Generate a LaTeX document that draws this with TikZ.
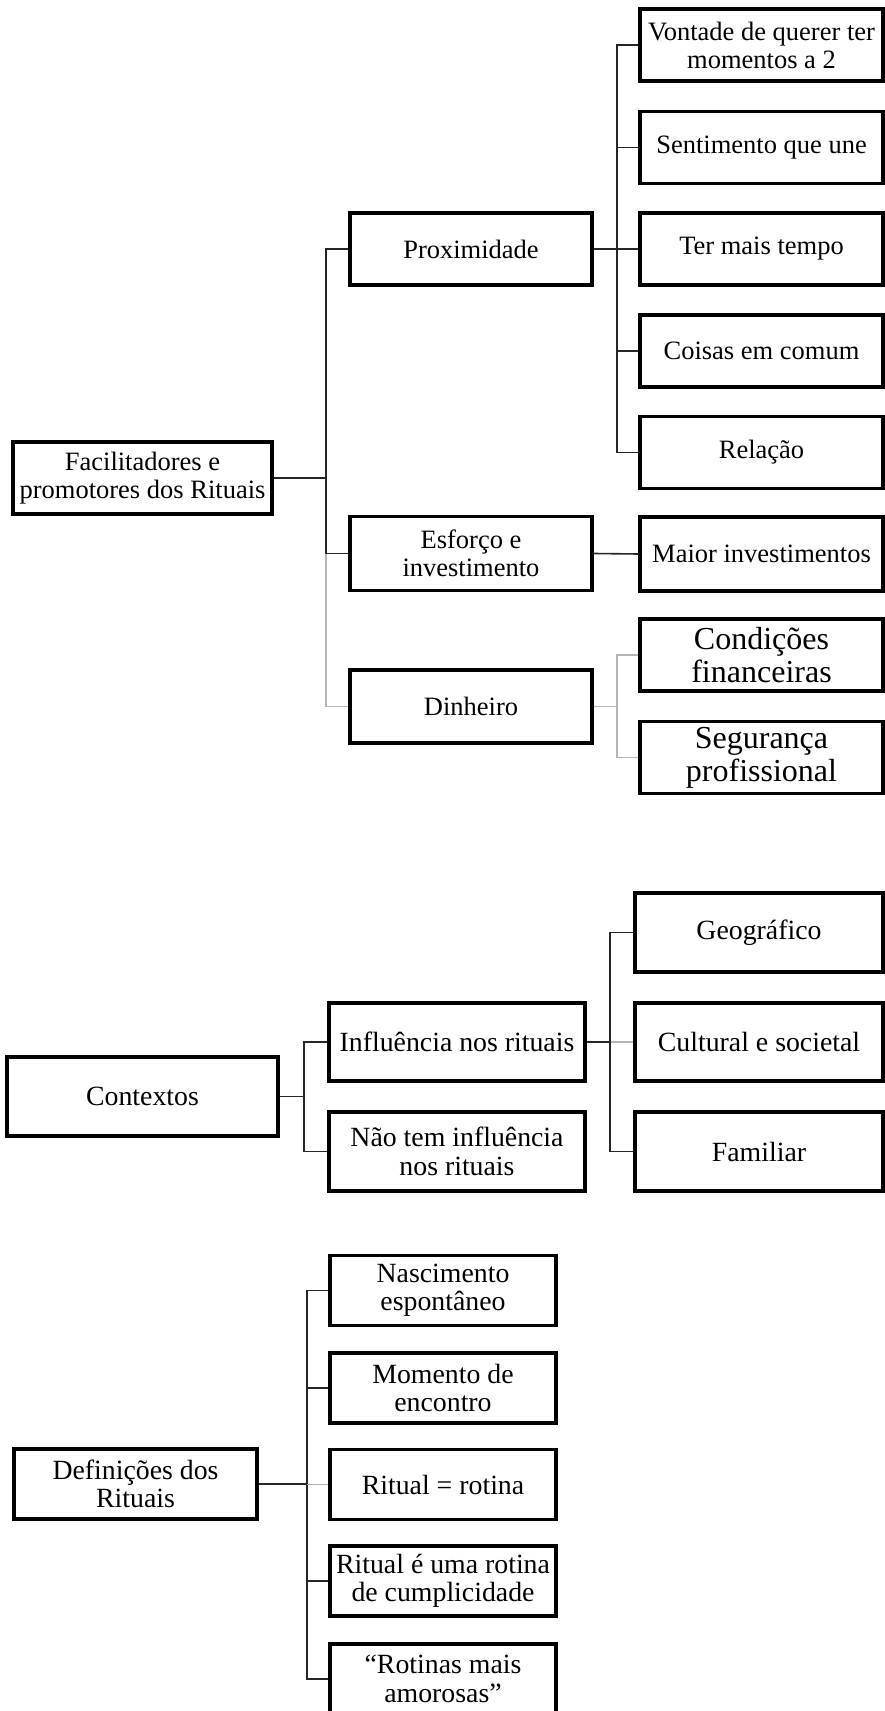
\documentclass[tikz,border=0pt]{standalone}
\usepackage{fontspec}
\setmainfont{Liberation Serif}
\definecolor{linedark}{HTML}{262626}
\definecolor{linegray}{HTML}{B4B4B4}
\begin{document}
\begin{tikzpicture}[x=0.5pt,y=-0.5pt,
  box/.style={draw=black, line width=1.6pt, fill=white, align=center, inner sep=0pt,
    font=\fontsize{13.25}{14}\selectfont},
  boxb/.style={box, font=\fontsize{13.9}{14.2}\selectfont},
  boxbig/.style={box, font=\fontsize{16}{16.5}\selectfont},
  mid/.style={minimum width=121pt, minimum height=36pt},
  rcol/.style={minimum width=121.5pt, minimum height=36pt},
  conn/.style={draw=linedark, line width=0.8pt},
  conngray/.style={draw=linegray, line width=0.8pt}]
\useasboundingbox (0,0) rectangle (884,1711);
\fill[white] (0,0) rectangle (884,1711);

% ---------- Section 1 ----------
\node[box, minimum width=129.5pt, minimum height=36pt] (F) at (142.5,478) {Facilitadores e\\promotores dos Rituais};
\node[box, mid] (P) at (471,249) {Proximidade};
\node[box, mid, minimum height=37pt] (E) at (471,553.5) {Esforço e\\investimento};
\node[box, mid, minimum height=36.5pt] (D) at (471,706.5) {Dinheiro};

\node[box, rcol] (V) at (761.5,45) {Vontade de querer ter\\momentos a 2};
\node[box, rcol] (S) at (761.5,147.5) {Sentimento que une};
\node[box, rcol] (T) at (761.5,249) {Ter mais tempo};
\node[box, rcol] (C) at (761.5,351) {Coisas em comum};
\node[box, rcol] (R) at (761.5,452.5) {Relação};
\node[box, rcol, minimum height=37pt] (M) at (761.5,554) {Maior investimentos};
\node[boxbig, rcol] (CF) at (761.5,655) {Condições\\financeiras};
\node[boxbig, rcol] (SP) at (761.5,757.5) {Segurança\\profissional};

\coordinate (b1) at (326,0);
\coordinate (b2) at (617,0);
\draw[conn] (F.east) -- (F.east -| b1);
\draw[conn] (P.west) -| (b1 |- E.west) -- (E.west);
\draw[conngray] (b1 |- E.west) |- (D.west);
\draw[conn] (P.east) -- (P.east -| b2);
\draw[conn] (V.west) -| (b2 |- R.west) -- (R.west);
\draw[conn] (S.west) -- (S.west -| b2);
\draw[conn] (T.west) -- (T.west -| b2);
\draw[conn] (C.west) -- (C.west -| b2);
\draw[conn] (E.east) -- (M.west);
\draw[conngray] (D.east) -- (D.east -| b2);
\draw[conngray] (CF.west) -| (b2 |- SP.west) -- (SP.west);

% ---------- Section 2 ----------
\node[boxb, minimum width=135.5pt, minimum height=39.5pt] (Ctx) at (142.5,1096.5) {Contextos};
\node[boxb, minimum width=128pt, minimum height=39pt] (I) at (457,1042) {Influência nos rituais};
\node[boxb, minimum width=128pt, minimum height=39.5pt] (N) at (457,1151.5) {Não tem influência\\nos rituais};
\node[boxb, minimum width=124pt, minimum height=39.5pt] (G) at (759,932.5) {Geográfico};
\node[boxb, minimum width=124pt, minimum height=39pt] (Cu) at (759,1042) {Cultural e societal};
\node[boxb, minimum width=124pt, minimum height=39.5pt] (Fa) at (759,1151.5) {Familiar};

\coordinate (b3) at (304,0);
\coordinate (b4) at (610,0);
\draw[conn] (Ctx.east) -- (Ctx.east -| b3);
\draw[conn] (I.west) -| (b3 |- N.west) -- (N.west);
\draw[conn] (I.east) -- (I.east -| b4);
\draw[conngray] (I.east -| b4) -- (Cu.west);
\draw[conn] (G.west) -| (b4 |- Fa.west) -- (Fa.west);

% ---------- Section 3 ----------
\node[boxb, minimum width=121.5pt, minimum height=35pt] (Def) at (135.5,1484) {Definições dos\\Rituais};
\node[boxb, minimum width=113pt, minimum height=35pt] (Na) at (443,1290.5) {Nascimento\\espontâneo};
\node[boxb, minimum width=113pt, minimum height=35pt] (Mo) at (443,1388) {Momento de\\encontro};
\node[boxb, minimum width=113pt, minimum height=35pt] (RR) at (443,1484.5) {Ritual = rotina};
\node[boxb, minimum width=113pt, minimum height=35pt] (RE) at (443,1581) {Ritual é uma rotina\\de cumplicidade};
\node[boxb, minimum width=113pt, minimum height=35pt] (Ro) at (443,1679) {“Rotinas mais\\amorosas”};

\coordinate (b5) at (307,0);
\draw[conn] (Def.east) -- (Def.east -| b5);
\draw[conn] (Na.west) -| (b5 |- Ro.west) -- (Ro.west);
\draw[conn] (Mo.west) -- (Mo.west -| b5);
\draw[conngray] (RR.west) -- (RR.west -| b5);
\draw[conn] (RE.west) -- (RE.west -| b5);
\end{tikzpicture}
\end{document}
